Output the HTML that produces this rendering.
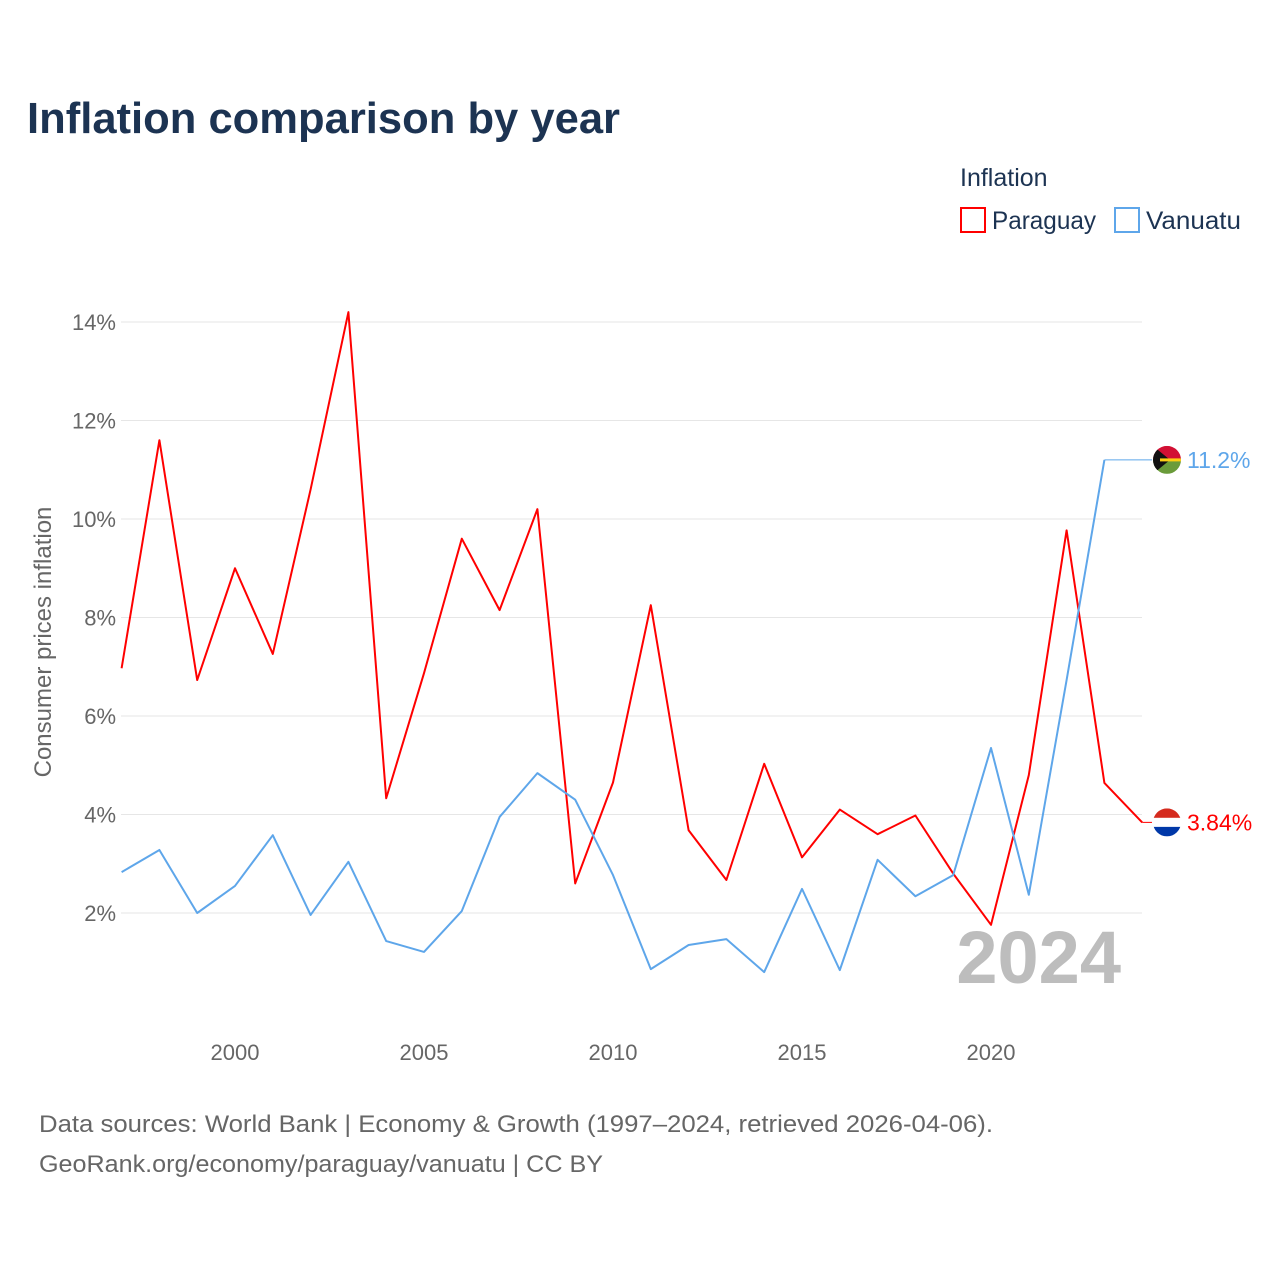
<!DOCTYPE html>
<html><head><meta charset="utf-8"><style>
body{margin:0;background:#fff;font-family:"Liberation Sans",sans-serif;}
svg text{font-family:"Liberation Sans",sans-serif;}
</style></head><body>
<svg id="chart" width="1280" height="1280" viewBox="0 0 1280 1280" xmlns="http://www.w3.org/2000/svg">
<rect width="1280" height="1280" fill="#fff"/>
<text x="27" y="133" font-size="44" font-weight="bold" fill="#1c3352" textLength="593" lengthAdjust="spacingAndGlyphs">Inflation comparison by year</text>
<text x="960" y="186" font-size="25" fill="#1c3352">Inflation</text>
<g><rect x="961" y="208" width="24" height="24" fill="none" stroke="#ff0000" stroke-width="2"/><text x="992" y="229" font-size="25" fill="#1c3352" textLength="104" lengthAdjust="spacingAndGlyphs">Paraguay</text></g>
<g><rect x="1115" y="208" width="24" height="24" fill="none" stroke="#5ea6ea" stroke-width="2"/><text x="1146" y="229" font-size="25" fill="#1c3352" textLength="95" lengthAdjust="spacingAndGlyphs">Vanuatu</text></g>
<text transform="translate(51,642) rotate(-90)" text-anchor="middle" font-size="24" fill="#666">Consumer prices inflation</text>
<g id="grid"></g><g id="yticks"></g><g id="xticks"></g>
<text x="1121" y="983" text-anchor="end" font-size="74" font-weight="bold" fill="#bdbdbd">2024</text>
<g id="series"></g>
<text x="39" y="1132" font-size="24" fill="#666" textLength="954" lengthAdjust="spacingAndGlyphs">Data sources: World Bank | Economy &amp; Growth (1997–2024, retrieved 2026-04-06).</text>
<text x="39" y="1172" font-size="24" fill="#666" textLength="564" lengthAdjust="spacingAndGlyphs">GeoRank.org/economy/paraguay/vanuatu | CC BY</text>
</svg>
<script>
const years=[1997,1998,1999,2000,2001,2002,2003,2004,2005,2006,2007,2008,2009,2010,2011,2012,2013,2014,2015,2016,2017,2018,2019,2020,2021,2022,2023,2024];
const paraguay=[6.97,11.6,6.73,9.0,7.26,10.6,14.2,4.33,6.87,9.6,8.15,10.2,2.6,4.65,8.25,3.68,2.67,5.03,3.13,4.1,3.6,3.98,2.8,1.76,4.8,9.77,4.64,3.84];
const vanuatu=[2.83,3.28,2.0,2.55,3.58,1.96,3.04,1.43,1.21,2.04,3.95,4.84,4.3,2.77,0.86,1.35,1.47,0.8,2.49,0.84,3.08,2.34,2.77,5.35,2.37,6.73,11.2,null];
const yTicks=[2,4,6,8,10,12,14];
const xTicks=[2000,2005,2010,2015,2020];
const NS="http://www.w3.org/2000/svg";
const X=y=>121.6+(y-1997)*37.8;
const Y=v=>1011.5-v*49.25;
function mk(t,a,p){const e=document.createElementNS(NS,t);for(const k in a)e.setAttribute(k,a[k]);document.getElementById(p).appendChild(e);return e;}
yTicks.forEach(v=>{
 const l=mk('line',{x1:121,x2:1142,y1:Y(v),y2:Y(v),stroke:'#e6e6e6','stroke-width':1},'grid');
 
 
 const t=mk('text',{x:116,y:Y(v)+8,'text-anchor':'end','font-size':22,fill:'#666'},'yticks');t.textContent=v+'%';
 
 
});
xTicks.forEach(v=>{
 const t=mk('text',{x:X(v),y:1060,'text-anchor':'middle','font-size':22,fill:'#666'},'xticks');t.textContent=v;
 
 
});
function line(vals,color,name){
 let pts=[];vals.forEach((v,i)=>{if(v!=null)pts.push([X(years[i]),Y(v)]);});
 const p=mk('polyline',{points:pts.map(q=>q.join(',')).join(' '),fill:'none',stroke:color,'stroke-width':2,'stroke-linejoin':'round'},'series');
 
 
 const last=pts[pts.length-1];
 const c=mk('line',{x1:last[0],y1:last[1],x2:1152,y2:last[1],stroke:color,'stroke-width':1},'series');
 
 
 return last;
}
const lp=line(paraguay,'#ff0000','paraguay');
const lv=line(vanuatu,'#5ea6ea','vanuatu');
function flag(cy,name,kind){
 const g=mk('g',{},'series');
 const id='cl'+name;
 const cp=document.createElementNS(NS,'clipPath');cp.setAttribute('id',id);const cc=document.createElementNS(NS,'circle');cc.setAttribute('cx',1167);cc.setAttribute('cy',cy);cc.setAttribute('r',14);cp.appendChild(cc);g.appendChild(cp);
 const sub=document.createElementNS(NS,'g');sub.setAttribute('clip-path','url(#'+id+')');g.appendChild(sub);
 const r=(y,h,f)=>{const e=document.createElementNS(NS,'rect');e.setAttribute('x',1153);e.setAttribute('y',y);e.setAttribute('width',28);e.setAttribute('height',h);e.setAttribute('fill',f);sub.appendChild(e);};
 if(kind==='py'){r(cy-14,9.5,'#d52b1e');r(cy-4.5,9,'#fff');r(cy+4.5,9.5,'#0038a8');}
 else{r(cy-14,14,'#d21034');r(cy,14,'#6a9b3a');const t=document.createElementNS(NS,'polygon');t.setAttribute('points',`1153,${cy-14} 1170,${cy} 1153,${cy+14}`);t.setAttribute('fill','#111');sub.appendChild(t);const b=document.createElementNS(NS,'rect');b.setAttribute('x',1160);b.setAttribute('y',cy-1.5);b.setAttribute('width',21);b.setAttribute('height',3);b.setAttribute('fill','#fdce12');sub.appendChild(b);}
}
flag(lp[1],'paraguay','py');flag(lv[1],'vanuatu','vu');
const t1=mk('text',{x:1187,y:lp[1]+8,'font-size':23,fill:'#ff0000'},'series');t1.textContent=paraguay[paraguay.length-1]+'%';


const t2=mk('text',{x:1187,y:lv[1]+8,'font-size':23,fill:'#5ea6ea'},'series');t2.textContent=vanuatu[26]+'%';


</script>
</body></html>
